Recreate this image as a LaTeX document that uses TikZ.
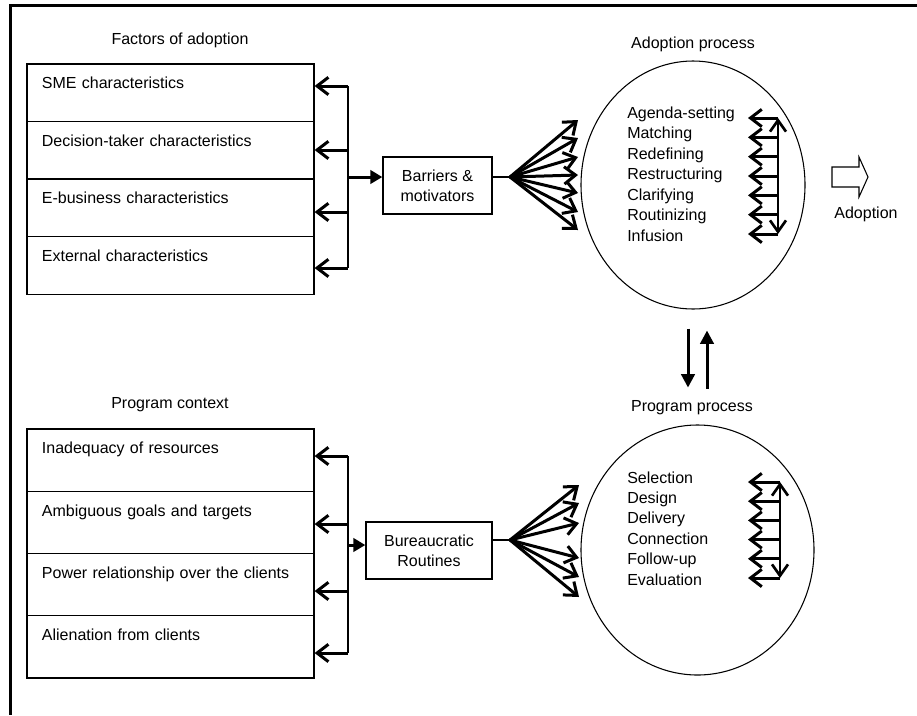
\documentclass[tikz,border=0pt]{standalone}
\usepackage{fontspec}
\setmainfont{Liberation Sans}
\usepackage{tikz}
\usetikzlibrary{
    positioning,
    arrows.meta,
    shapes.geometric,
    matrix,
    calc
}
\tikzset{
    row_cell/.style={
        rectangle, draw, line width=1pt,
        minimum width=215.25pt, text width=192.75pt,
        inner xsep=11.25pt, inner ysep=0pt,
        align=left, text height=18.6pt
    },
    stage_circle/.style={
        ellipse, draw, line width=0.8pt
    },
    small_box/.style={
        rectangle, draw, line width=1pt, align=center, inner sep=0pt
    },
    barb_arrow/.style={
        -{Straight Barb[length=8.5pt,width=13pt]}, line width=2.25pt
    },
    rail_arrow/.style={
        {Straight Barb[length=8.5pt,width=12pt]}-{Straight Barb[length=8.5pt,width=12pt]}, line width=2pt
    },
    tri_arrow/.style={
        -{Triangle[length=9pt,width=10pt]}, line width=2.25pt
    },
    bus_line/.style={
        line width=1.5pt
    }
}

\begin{document}
\begin{tikzpicture}[
    x=0.75pt, y=-0.75pt,
    every node/.style={font=\fontsize{12}{15}\selectfont},
    list_item/.style={anchor=west, inner sep=0pt, text height=8.6pt, text depth=2.6pt}
  ]

    \useasboundingbox (0,0) rectangle (917,715);
    \draw[line width=2.4pt] (917,5.5) -- (10.5,5.5) -- (10.5,715);

    % upper half: adoption
    \node (factors_title) at (180,40) {Factors of adoption};
    \matrix (factors) [matrix of nodes, nodes={row_cell, text depth=24.6pt}, row sep=-1pt, inner sep=0pt, anchor=north west] at (26,63) {
        SME characteristics \\
        Decision-taker characteristics \\
        E-business characteristics \\
        External characteristics \\
    };

    \coordinate (fbus_top) at (348,86);
    \coordinate (fbus_bot) at (348,268);
    \draw[bus_line] (fbus_top) -- (fbus_bot);
    \foreach \y [count=\i] in {86,150,212,268} {
        \coordinate (fb\i) at (348,\y);
        \draw[barb_arrow] (fb\i) -- (fb\i -| factors-\i-1.east);
    }

    \node[small_box, minimum width=81.75pt, minimum height=42.75pt] (barriers) at (437.5,185.5) {Barriers \&\\motivators};
    \coordinate (fb_out) at (348,177);
    \draw[tri_arrow] (fb_out) -- (fb_out -| barriers.west);

    \coordinate (fan_a) at (510,177);
    \draw[line width=1.2pt] (barriers.east |- fan_a) -- (fan_a);
    \foreach \dy in {-57,-39,-20,-2,16,35,53}
        \draw[barb_arrow] (fan_a) -- ++(68,\dy);

    \node[stage_circle, minimum width=168pt, minimum height=186pt] (adopt) at (693,185) {};
    \node (adopt_title) at (693,44) {Adoption process};
    \foreach \t [count=\i] in {Agenda-setting, Matching, Redefining, Restructuring, Clarifying, Routinizing, Infusion}
        \node[list_item] (astep\i) at (627,93.5+20.5*\i) {\t};

    \coordinate (arail_top) at (778,118);
    \coordinate (arail_bot) at (778,234);
    \draw[rail_arrow] (arail_bot) -- (arail_top);
    \foreach \i in {0,...,6}
        \draw[barb_arrow] ($(arail_top)!\i/6!(arail_bot)$) -- ++(-30,0);

    \coordinate (out_arrow) at (832,177);
    \draw[line width=0.8pt] (out_arrow) ++(0,-10) -- ++(27,0) -- ++(0,-10) -- ++(9,20) -- ++(-9,20) -- ++(0,-10) -- ++(-27,0) -- cycle;
    \node (adoption_out) at (866,214) {Adoption};

    % link between the two processes
    \draw[-{Triangle[length=10pt,width=10pt]}, line width=2.25pt] ($(adopt.south)+(-5,19)$) -- ++(0,59);
    \draw[-{Triangle[length=10pt,width=10pt]}, line width=2.25pt] ($(adopt.south)+(14,79)$) -- ++(0,-58);

    % lower half: program
    \node (context_title) at (170,405) {Program context};
    \matrix (context) [matrix of nodes, nodes={row_cell, text depth=28.1pt}, row sep=-1pt, inner sep=0pt, anchor=north west] at (26,428) {
        Inadequacy of resources \\
        Ambiguous goals and targets \\
        Power relationship over the clients \\
        Alienation from clients \\
    };

    \coordinate (cbus_top) at (348,456);
    \coordinate (cbus_bot) at (348,653);
    \draw[bus_line] (cbus_top) -- (cbus_bot);
    \foreach \y [count=\i] in {456,524,591,653} {
        \coordinate (cb\i) at (348,\y);
        \draw[barb_arrow] (cb\i) -- (cb\i -| context-\i-1.east);
    }

    \node[small_box, minimum width=94.5pt, minimum height=42.75pt] (bureau) at (429,550.5) {Bureaucratic\\Routines};
    \coordinate (cb_out) at (348,545);
    \draw[tri_arrow] (cb_out) -- (cb_out -| bureau.west);

    \coordinate (fan_b) at (510,540);
    \draw[line width=1.2pt] (bureau.east |- fan_b) -- (fan_b);
    \foreach \dy in {-55,-37,-17,18,37,57}
        \draw[barb_arrow] (fan_b) -- ++(69,\dy);

    \node[stage_circle, minimum width=174.75pt, minimum height=187.5pt] (program) at (697.5,550) {};
    \node (program_title) at (692,408) {Program process};
    \foreach \t [count=\i] in {Selection, Design, Delivery, Connection, Follow-up, Evaluation}
        \node[list_item] (pstep\i) at (627,458.6+20.4*\i) {\t};

    \coordinate (prail_top) at (780,482);
    \coordinate (prail_bot) at (780,578);
    \draw[rail_arrow] (prail_bot) -- (prail_top);
    \foreach \i in {0,...,5}
        \draw[barb_arrow] ($(prail_top)!\i/5!(prail_bot)$) -- ++(-32,0);

\end{tikzpicture}
\end{document}
